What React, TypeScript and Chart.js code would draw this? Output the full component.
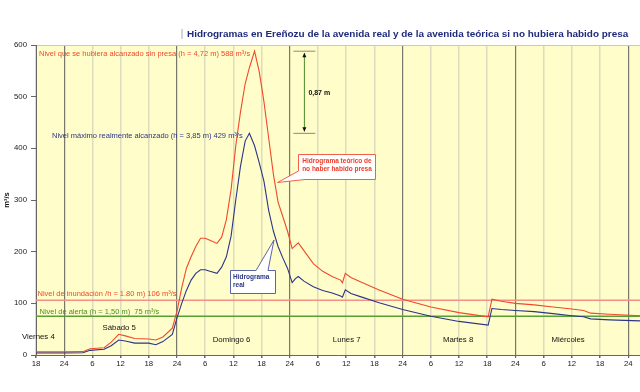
import React, { useEffect, useRef } from 'react';
import { Chart, registerables } from 'chart.js';

Chart.register(...registerables);

// Hours elapsed since Friday 4, 18:00
const hours = [
  0, 6, 10, 11.5, 14.5, 16, 17.6, 19, 21, 24, 25.5, 27, 29, 30, 31, 32, 33, 34, 35, 36, 37, 38.5,
  39.5, 40.5, 41.5, 42.5, 43.5, 44.5, 45.4, 46.5, 47.5, 48.5, 49.5, 50.5, 51.5, 52.5, 53.5, 54.5,
  55.2, 55.8, 57, 59, 61, 63, 64.8, 65.2, 65.8, 67, 69, 73, 78, 84, 90, 96.2, 97, 99, 102, 106,
  110, 114, 116.5, 118, 122, 128.5,
];

// Hidrograma real (m³/s)
const realFlow = [
  4, 4, 4.5, 9, 11, 18, 29, 27, 23, 23, 20, 26, 40, 72, 100, 125, 145, 158, 165, 165, 162, 158,
  170, 190, 230, 300, 365, 414, 429, 405, 372, 336, 280, 240, 210, 188, 168, 140,
  148, 152, 143, 132, 125, 120, 114, 112, 126, 119, 113, 101, 88, 75, 65, 58, 90, 88, 86, 84,
  80, 76, 74, 70, 68, 66,
];

// Hidrograma teórico sin presa (m³/s)
const theoreticalFlow = [
  6, 6, 6.5, 12, 14, 25, 40, 37, 32, 31, 29, 35, 52, 85, 130, 168, 190, 210, 226, 226, 222, 216,
  228, 262, 320, 405, 470, 525, 556, 588, 548, 490, 420, 350, 296, 268, 240, 206,
  212, 217, 202, 177, 162, 152, 145, 140, 158, 150, 142, 126, 108, 93, 82, 74, 108, 104, 100, 97,
  93, 89, 86, 81, 79, 76,
];

const floodLevel = 106;
const alertLevel = 75;
const peakTheoretical = 588;
const peakReal = 429;
const hourRange = [0, 128.5];
const yTickValues = [0, 100, 200, 300, 400, 500, 600];
const dayNames = ['Viernes 4', 'Sábado 5', 'Domingo 6', 'Lunes 7', 'Martes 8', 'Miércoles'];

const FONT = '"Liberation Sans", Arial, Helvetica, sans-serif';
const RED = '#EF4A2E';
const BLUE = '#2C3588';
const GREEN = '#5A9E36';

function txt(ctx: CanvasRenderingContext2D, s: string, x: number, y: number, size: number, color: string, bold = false, align: CanvasTextAlign = 'left') {
  ctx.save();
  ctx.font = `${bold ? 'bold ' : ''}${size}px ${FONT}`;
  ctx.fillStyle = color;
  ctx.textAlign = align;
  ctx.textBaseline = 'middle';
  ctx.fillText(s, x, y);
  ctx.restore();
}

const annotatePlugin = {
  id: 'annotate',
  beforeDraw(chart: any) {
    const { ctx, chartArea } = chart;
    ctx.save();
    ctx.fillStyle = '#FFFDC9';
    ctx.fillRect(chartArea.left, chartArea.top, chartArea.right - chartArea.left, chartArea.bottom - chartArea.top);
    ctx.restore();
  },
  afterDatasetsDraw(chart: any) {
    const { ctx } = chart;
    const xs = chart.scales.x;
    const ys = chart.scales.y;
    const px = (t: number) => xs.getPixelForValue(t);
    const py = (v: number) => ys.getPixelForValue(v);

    // title
    ctx.save();
    ctx.fillStyle = '#d4d4d4';
    ctx.fillRect(181, 29, 2, 10);
    ctx.restore();
    txt(ctx, 'Hidrogramas en Ereñozu de la avenida real y de la avenida teórica si no hubiera habido presa', 187, 34, 9.95, '#1E2A7C', true);

    // y axis title
    ctx.save();
    ctx.translate(6.5, 200);
    ctx.rotate(-Math.PI / 2);
    txt(ctx, 'm³/s', 0, 0, 7.5, '#111', true, 'center');
    ctx.restore();

    // level labels
    txt(ctx, 'Nivel que se hubiera alcanzado sin presa (h = 4,72 m) 588 m³/s', 39, 54, 7.5, RED);
    txt(ctx, 'Nivel máximo realmente alcanzado (h = 3,85 m) 429 m³/s', 52, 136, 7.5, BLUE);
    txt(ctx, 'Nivel de inundación /h = 1.80 m) 106 m³/s', 37.5, 294, 7.5, RED);
    txt(ctx, 'Nivel de alerta (h = 1,50 m)  75 m³/s', 39.5, 311.5, 7.5, '#4A9128');

    // day labels
    const dayPos = [
      [0.5, 35], [17.7, 53], [41.6, 30], [66.1, 30], [89.8, 30], [113.2, 30],
    ];
    dayNames.forEach((d, i) => txt(ctx, d, px(dayPos[i][0]), py(dayPos[i][1]), 7.8, '#111', false, 'center'));

    // 0,87 m dimension arrow
    const ax = px(57.1);
    const yTop = py(peakTheoretical);
    const yBot = py(peakReal);
    ctx.save();
    ctx.strokeStyle = '#8a8a80';
    ctx.lineWidth = 1;
    ctx.beginPath();
    ctx.moveTo(ax - 11, yTop); ctx.lineTo(ax + 11, yTop);
    ctx.moveTo(ax - 11, yBot); ctx.lineTo(ax + 11, yBot);
    ctx.stroke();
    ctx.strokeStyle = '#4F8A2A';
    ctx.beginPath();
    ctx.moveTo(ax, yTop + 2); ctx.lineTo(ax, yBot - 2);
    ctx.stroke();
    ctx.fillStyle = '#111';
    ctx.beginPath();
    ctx.moveTo(ax, yTop + 1.5); ctx.lineTo(ax - 2, yTop + 6); ctx.lineTo(ax + 2, yTop + 6); ctx.closePath();
    ctx.moveTo(ax, yBot - 1.5); ctx.lineTo(ax - 2, yBot - 6); ctx.lineTo(ax + 2, yBot - 6); ctx.closePath();
    ctx.fill();
    ctx.restore();
    txt(ctx, '0,87 m', ax + 4, (yTop + yBot) / 2 + 1, 7, '#111', true);

    // callout: theoretical
    ctx.save();
    ctx.fillStyle = '#ffffff';
    ctx.strokeStyle = '#F0604E';
    ctx.lineWidth = 1;
    ctx.beginPath();
    ctx.moveTo(298.5, 154.5); ctx.lineTo(375.5, 154.5); ctx.lineTo(375.5, 179.5); ctx.lineTo(305, 179.5);
    ctx.lineTo(277.5, 182.5); ctx.lineTo(298.5, 171); ctx.closePath();
    ctx.fill(); ctx.stroke();
    ctx.restore();
    txt(ctx, 'Hidrograma teórico de', 337, 161, 6.5, '#EE3B2B', true, 'center');
    txt(ctx, 'no haber habido presa', 337, 169, 6.5, '#EE3B2B', true, 'center');

    // callout: real
    ctx.save();
    ctx.fillStyle = '#ffffff';
    ctx.strokeStyle = '#5A64A8';
    ctx.lineWidth = 1;
    ctx.beginPath();
    ctx.moveTo(230.5, 270.5); ctx.lineTo(256, 270.5); ctx.lineTo(274, 240); ctx.lineTo(268, 270.5);
    ctx.lineTo(275.5, 270.5); ctx.lineTo(275.5, 293.5); ctx.lineTo(230.5, 293.5); ctx.closePath();
    ctx.fill(); ctx.stroke();
    ctx.restore();
    txt(ctx, 'Hidrograma', 233, 277.7, 6.5, BLUE, true);
    txt(ctx, 'real', 233, 285.5, 6.5, BLUE, true);
  },
};

export default function App() {
  const ref = useRef<HTMLCanvasElement | null>(null);

  useEffect(() => {
    document.body.style.margin = '0';
    const canvas = ref.current;
    if (!canvas) return;
    const chart = new Chart(canvas, {
      type: 'line',
      data: {
        datasets: [
          {
            label: 'Hidrograma real',
            data: hours.map((h, i) => ({ x: h, y: realFlow[i] })),
            borderColor: BLUE,
            borderWidth: 1.1,
            pointRadius: 0,
            tension: 0,
          },
          {
            label: 'Hidrograma teórico',
            data: hours.map((h, i) => ({ x: h, y: theoreticalFlow[i] })),
            borderColor: RED,
            borderWidth: 1.1,
            pointRadius: 0,
            tension: 0,
          },
          {
            label: 'Nivel de inundación',
            data: hourRange.map((h) => ({ x: h, y: floodLevel })),
            borderColor: '#F39088',
            borderWidth: 1.3,
            pointRadius: 0,
          },
          {
            label: 'Nivel de alerta',
            data: hourRange.map((h) => ({ x: h, y: alertLevel })),
            borderColor: GREEN,
            borderWidth: 1.3,
            pointRadius: 0,
          },
        ],
      },
      options: {
        responsive: false,
        animation: false,
        layout: { padding: { top: 45, right: 0, bottom: 0, left: 0 } },
        plugins: { legend: { display: false }, tooltip: { enabled: false }, title: { display: false } },
        scales: {
          x: {
            type: 'linear',
            min: hourRange[0],
            max: hourRange[1],
            afterFit: (s: any) => { s.height = 37; },
            afterBuildTicks: (s: any) => {
              const t = [];
              for (let v = hourRange[0]; v <= hourRange[1]; v += 6) t.push({ value: v });
              s.ticks = t;
            },
            ticks: {
              autoSkip: false,
              maxRotation: 0,
              padding: 1,
              color: '#222',
              font: { family: FONT, size: 7.8 },
              callback: (v: any) => {
                const h = (18 + Number(v)) % 24;
                return h === 0 ? '24' : String(h);
              },
            },
            grid: {
              color: (c: any) => ((c.tick && (c.tick.value - 6) % 24 === 0) ? '#77776c' : '#DEDCBE'),
              lineWidth: (c: any) => ((c.tick && (c.tick.value - 6) % 24 === 0) ? 1.2 : 1.5),
              tickColor: '#666',
              tickLength: 3,
            },
            border: { display: true, color: '#666', width: 1 },
          },
          y: {
            min: 0,
            max: 600,
            afterFit: (s: any) => { s.width = 36; },
            afterBuildTicks: (s: any) => { s.ticks = yTickValues.map((v) => ({ value: v })); },
            ticks: {
              padding: 4,
              color: '#222',
              font: { family: FONT, size: 7.8 },
            },
            grid: {
              color: (c: any) => (c.tick && c.tick.value === 600 ? '#C8C8C0' : 'rgba(0,0,0,0)'),
              tickColor: '#666',
              tickLength: 5,
            },
            border: { display: true, color: '#666', width: 1 },
          },
        },
      },
      plugins: [annotatePlugin],
    });
    return () => chart.destroy();
  }, []);

  return (
    <div style={{ width: 640, height: 392, background: '#fff' }}>
      <canvas ref={ref} width={640} height={392} style={{ display: 'block' }} />
    </div>
  );
}
